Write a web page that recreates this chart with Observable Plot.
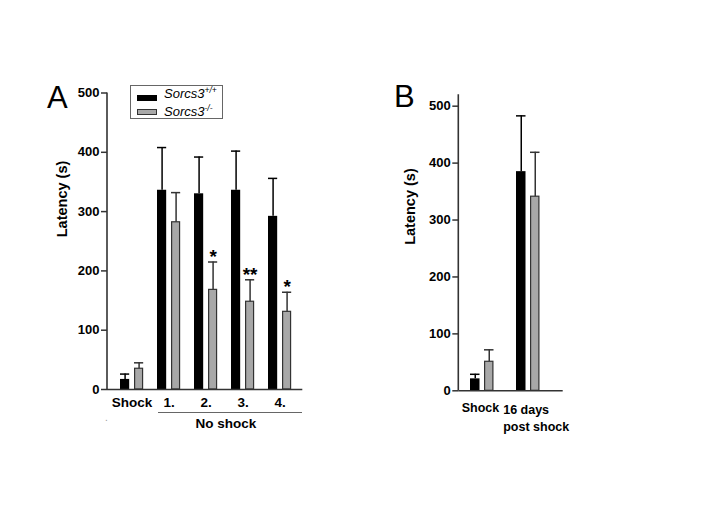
<!DOCTYPE html>
<html>
<head>
<meta charset="utf-8">
<script src="https://cdn.jsdelivr.net/npm/d3@7"></script>
<script src="https://cdn.jsdelivr.net/npm/@observablehq/plot@0.6"></script>
<style>
  html, body { margin: 0; padding: 0; background: #fff; }
  #chart { position: relative; width: 708px; height: 506px; background: #fff; overflow: hidden;
           font-family: "Liberation Sans", Arial, sans-serif; color: #000; }
  #chart svg { position: absolute; top: 0; }
  .abs { position: absolute; line-height: 1; white-space: nowrap; }
</style>
</head>
<body>
<div id="chart"></div>
<script>
// ---------- data ----------
const groupsA = ["Shock", "1.", "2.", "3.", "4."];
const wtMeanA = [17, 336, 330, 336, 292];
const wtSemA  = [9, 72, 62, 66, 64];
const koMeanA = [35, 282, 168, 148, 131];
const koSemA  = [10, 50, 47, 37, 33];
const sigA    = ["", "", "*", "**", "*"];

const groupsB = ["Shock", "16 days\npost shock"];
const wtMeanB = [21, 385];
const wtSemB  = [8, 98];
const koMeanB = [51, 341];
const koSemB  = [21, 78];

const yTicks = [0, 100, 200, 300, 400, 500];
const seriesNames = ["Sorcs3", "Sorcs3"];
const seriesSup = ["+/+", "-/-"];

// ---------- helpers ----------
function rows(groups, means, sems, sig) {
  return groups.map((g, i) => ({group: g, mean: means[i], top: means[i] + sems[i], sig: sig ? sig[i] : ""}));
}
function yAxisLine() {
  return (index, scales, values, dim) => {
    const l = document.createElementNS("http://www.w3.org/2000/svg", "line");
    l.setAttribute("x1", dim.marginLeft); l.setAttribute("x2", dim.marginLeft);
    l.setAttribute("y1", dim.marginTop); l.setAttribute("y2", dim.height - dim.marginBottom);
    l.setAttribute("stroke", "#333"); l.setAttribute("stroke-width", 1.6);
    return l;
  };
}
const font = "Liberation Sans, Arial, sans-serif";

function panel(cfg) {
  const wt = rows(cfg.groups, cfg.wtMean, cfg.wtSem);
  const ko = rows(cfg.groups, cfg.koMean, cfg.koSem, cfg.sig);
  const s = cfg.step, bw = 10;
  const bL = cfg.off, bR = s - cfg.off - bw;              // black bar insets
  const gL = cfg.off + bw + cfg.gap, gR = s - gL - bw;     // grey bar insets
  const dxB = bL + bw / 2 - s / 2, dxG = gL + bw / 2 - s / 2;
  return Plot.plot({
    width: cfg.width, height: 506,
    marginLeft: cfg.mL, marginRight: cfg.mR, marginTop: cfg.mT, marginBottom: cfg.mB,
    style: {fontFamily: font, color: "#000", background: "transparent", overflow: "visible"},
    x: {type: "band", domain: cfg.groups, range: cfg.xRange, padding: 0},
    y: {domain: cfg.yDomain},
    marks: [
      Plot.barY(wt, {x: "group", y: "mean", fill: "#000", insetLeft: bL, insetRight: bR}),
      Plot.barY(ko, {x: "group", y: "mean", fill: "#a8a8a8", stroke: "#333", strokeWidth: 1.2,
                     insetLeft: gL + 0.6, insetRight: gR + 0.6}),
      Plot.ruleX(wt, {x: "group", y1: "mean", y2: "top", dx: dxB, stroke: "#000", strokeWidth: 1.5}),
      Plot.tickY(wt, {x: "group", y: "top", insetLeft: bL, insetRight: bR, stroke: "#000", strokeWidth: 1.5}),
      Plot.ruleX(ko, {x: "group", y1: "mean", y2: "top", dx: dxG, stroke: "#333", strokeWidth: 1.5}),
      Plot.tickY(ko, {x: "group", y: "top", insetLeft: gL, insetRight: gR, stroke: "#333", strokeWidth: 1.5}),
      Plot.text(ko.filter(d => d.sig), {x: "group", y: "top", text: "sig", dx: dxG, dy: 1,
                lineAnchor: "bottom", fontSize: 19, fontWeight: "bold", fill: "#000"}),
      Plot.ruleY([0], {stroke: "#333", strokeWidth: 1.6}),
      yAxisLine(),
      Plot.axisY({ticks: yTicks, tickSize: 6, tickPadding: 2, fontSize: 13, fontWeight: "bold",
                  stroke: "#333", strokeWidth: 1.5, label: null, fill: "#000"}),
      ...cfg.xAxes,
      Plot.text(["Latency (s)"], {frameAnchor: "left", rotate: -90, dx: -cfg.labelOff, dy: cfg.labelDy,
                fontSize: 14.5, fontWeight: "bold", fill: "#000"})
    ]
  });
}

const chart = document.getElementById("chart");

// ---------- panel A ----------
const svgA = panel({
  groups: groupsA, wtMean: wtMeanA, wtSem: wtSemA, koMean: koMeanA, koSem: koSemA, sig: sigA,
  width: 360, mL: 107, mR: 57.7, mT: 92.5, mB: 117,
  xRange: [110.8, 299.9], step: 37.82, off: 7, gap: 4,
  yDomain: [0, 500], labelOff: 45, labelDy: -4,
  xAxes: [Plot.axisX({tickSize: 0, tickPadding: 8, fontSize: 13.5, fontWeight: "bold", label: null, fill: "#000"})]
});
svgA.style.left = "0px";
chart.appendChild(svgA);

// ---------- panel B ----------
const svgB = panel({
  groups: groupsB, wtMean: wtMeanB, wtSem: wtSemB, koMean: koMeanB, koSem: koSemB, sig: null,
  width: 348, mL: 98.3, mR: 145.3, mT: 94.3, mB: 115.7,
  xRange: [98.25, 191.25], step: 46.5, off: 11, gap: 4,
  yDomain: [0, 520], labelOff: 48, labelDy: 2,
  xAxes: [
    Plot.axisX({ticks: [groupsB[0]], tickSize: 0, tickPadding: 12, fontSize: 12.5, fontWeight: "bold",
                dx: -2, label: null, fill: "#000"}),
    Plot.axisX({ticks: [groupsB[1]], tickSize: 0, tickPadding: 12, fontSize: 12.5, fontWeight: "bold",
                textAnchor: "start", dx: -25.3, lineHeight: 1.3, label: null, fill: "#000"})
  ]
});
svgB.style.left = "360px";
chart.appendChild(svgB);

// ---------- annotations (panel letters, legend, group bracket) ----------
function addDiv(html, css) {
  const d = document.createElement("div");
  d.className = "abs";
  d.innerHTML = html;
  Object.assign(d.style, css);
  chart.appendChild(d);
  return d;
}
addDiv("A", {left: "47px", top: "82px", fontSize: "31px"});
addDiv("B", {left: "394px", top: "81px", fontSize: "31px"});

// legend
addDiv("", {left: "130px", top: "85px", width: "93px", height: "34px", border: "1.5px solid #666", boxSizing: "border-box"});
addDiv("", {left: "137px", top: "95px", width: "20px", height: "6px", background: "#000"});
addDiv("", {left: "137px", top: "108.5px", width: "20px", height: "6px", background: "#a8a8a8", border: "1px solid #333", boxSizing: "border-box"});
addDiv(`${seriesNames[0]}<span style="font-size:8.5px;position:relative;top:-5px">${seriesSup[0]}</span>`,
       {left: "164px", top: "86.5px", fontSize: "13px", fontStyle: "italic"});
addDiv(`${seriesNames[1]}<span style="font-size:8.5px;position:relative;top:-5px">${seriesSup[1]}</span>`,
       {left: "164px", top: "105px", fontSize: "13px", fontStyle: "italic"});

// "No shock" bracket
addDiv("", {left: "158px", top: "412px", width: "144px", height: "0px", borderTop: "1.5px solid #666"});
addDiv("No shock", {left: "165.8px", top: "416.5px", width: "120px", textAlign: "center", fontSize: "13.5px", fontWeight: "bold"});
addDiv(".", {left: "105px", top: "413px", fontSize: "10px", color: "#999"});
</script>
</body>
</html>
